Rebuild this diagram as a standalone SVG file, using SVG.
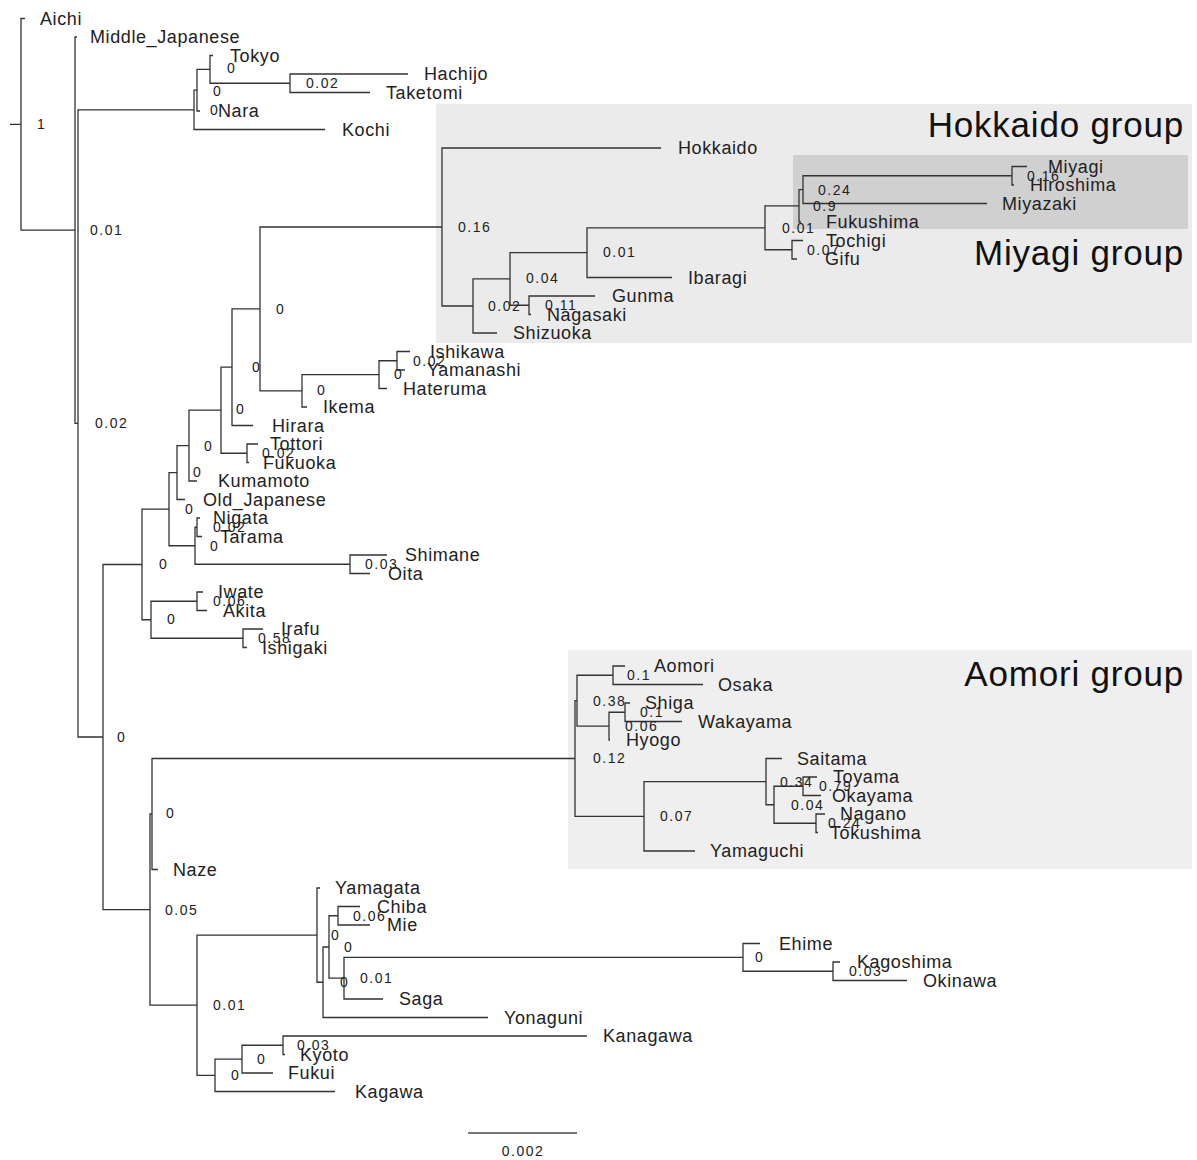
<svg xmlns="http://www.w3.org/2000/svg" width="1197" height="1160" viewBox="0 0 1197 1160">
<style>
.br{fill:none;stroke:#333;stroke-width:1.3}
.lf{font-family:"Liberation Sans",Arial,sans-serif;font-size:18px;letter-spacing:0.6px;fill:#222}
.sv{font-family:"Liberation Sans",Arial,sans-serif;font-size:14px;letter-spacing:1.5px;fill:#222}
.gt{font-family:"Liberation Sans",Arial,sans-serif;font-size:35px;letter-spacing:0.8px;fill:#111;text-anchor:end}
</style>
<rect width="1197" height="1160" fill="#fff"/>
<g id="boxes">
<rect x="436" y="104" width="756" height="239" fill="#ebebeb"/>
<rect x="793" y="155" width="395" height="74" fill="#d0d0d0"/>
<rect x="568" y="650" width="624" height="219" fill="#efefef"/>
</g>
<g id="group-titles">
<text class="gt" x="1184" y="137">Hokkaido group</text>
<text class="gt" x="1184" y="265">Miyagi group</text>
<text class="gt" x="1184" y="686">Aomori group</text>
</g>
<g id="connectors" class="br">
<path d="M25 18.5 H21 V230.2 H75 M10 124.35 H21"/>
<path d="M77 37 H75 V423.4 H78"/>
<path d="M194 109.85 H78 V737 H103"/>
<path d="M197 90.2 H194 V129.5 H325"/>
<path d="M210 69.4 H197 V111 H200"/>
<path d="M213 55.5 H210 V83.25 H290"/>
<path d="M408 74 H290 V92.5 H370"/>
<path d="M142 564.5 H103 V909.6 H150"/>
<path d="M169 509.2 H142 V619.75 H151"/>
<path d="M177 472.6 H169 V545.75 H195"/>
<path d="M189 445.6 H177 V499.5 H185"/>
<path d="M221 410.2 H189 V481 H197"/>
<path d="M232 367.2 H221 V453.25 H247"/>
<path d="M260 308.9 H232 V425.5 H253"/>
<path d="M442 227 H260 V390.8 H302"/>
<path d="M379 374.6 H302 V407 H307"/>
<path d="M397 360.75 H379 V388.5 H387"/>
<path d="M410 351.5 H397 V370 H405"/>
<path d="M258 444 H247 V462.5 H249"/>
<path d="M661 148 H442 V306 H473"/>
<path d="M510 278.9 H473 V333 H497"/>
<path d="M587 252.6 H510 V305.25 H529"/>
<path d="M595 296 H529 V314.5 H531"/>
<path d="M765 227.8 H587 V277.5 H672"/>
<path d="M799 205.8 H765 V249.75 H792"/>
<path d="M803 189.6 H799 V222 H801"/>
<path d="M1012 175.75 H803 V203.5 H987"/>
<path d="M1027 166.5 H1012 V185 H1014"/>
<path d="M803 240.5 H792 V259 H797"/>
<path d="M197 527.25 H195 V564.25 H350"/>
<path d="M200 518 H197 V536.5 H202"/>
<path d="M387 555 H350 V573.5 H370"/>
<path d="M197 601.25 H151 V638.25 H243"/>
<path d="M203 592 H197 V610.5 H207"/>
<path d="M263 629 H243 V647.5 H247"/>
<path d="M152 814 H150 V1005.2 H197"/>
<path d="M575 758.5 H152 V869.5 H158"/>
<path d="M577 700.7 H575 V816.3 H644"/>
<path d="M613 675.25 H577 V726.1 H609"/>
<path d="M625 666 H613 V684.5 H703"/>
<path d="M625 712.25 H609 V740 H610"/>
<path d="M630 703 H625 V721.5 H682"/>
<path d="M766 781.6 H644 V851 H695"/>
<path d="M782 758.5 H766 V804.75 H774"/>
<path d="M803 786.25 H774 V823.25 H816"/>
<path d="M817 777 H803 V795.5 H821"/>
<path d="M825 814 H816 V832.5 H818"/>
<path d="M317 935.1 H197 V1075.3 H215"/>
<path d="M320 888 H317 V982.25 H323"/>
<path d="M329 947 H323 V1017.5 H488"/>
<path d="M338 915.75 H329 V978.2 H344"/>
<path d="M360 906.5 H338 V925 H370"/>
<path d="M743 957.4 H344 V999 H383"/>
<path d="M760 943.5 H743 V971.25 H833"/>
<path d="M840 962 H833 V980.5 H907"/>
<path d="M242 1059.1 H215 V1091.5 H335"/>
<path d="M283 1045.25 H242 V1073 H273"/>
<path d="M587 1036 H283 V1054.5 H285"/>
</g>
<g id="support-values" class="sv">
<text x="37" y="129">1</text>
<text x="90" y="235">0.01</text>
<text x="95" y="428">0.02</text>
<text x="227" y="73">0</text>
<text x="306" y="88">0.02</text>
<text x="213" y="96">0</text>
<text x="210" y="115">0</text>
<text x="458" y="232">0.16</text>
<text x="818" y="195">0.24</text>
<text x="1027" y="181">0.16</text>
<text x="813" y="211">0.9</text>
<text x="782" y="233">0.01</text>
<text x="807" y="255">0.07</text>
<text x="603" y="257">0.01</text>
<text x="526" y="283">0.04</text>
<text x="488" y="311">0.02</text>
<text x="545" y="310">0.11</text>
<text x="276" y="314">0</text>
<text x="252" y="372">0</text>
<text x="317" y="395">0</text>
<text x="394" y="379">0</text>
<text x="413" y="366">0.02</text>
<text x="236" y="414">0</text>
<text x="262" y="458">0.02</text>
<text x="204" y="451">0</text>
<text x="193" y="477">0</text>
<text x="185" y="514">0</text>
<text x="210" y="551">0</text>
<text x="213" y="532">0.02</text>
<text x="365" y="569">0.03</text>
<text x="159" y="569">0</text>
<text x="167" y="624">0</text>
<text x="213" y="606">0.06</text>
<text x="258" y="643">0.58</text>
<text x="117" y="742">0</text>
<text x="593" y="763">0.12</text>
<text x="593" y="706">0.38</text>
<text x="627" y="680">0.1</text>
<text x="640" y="717">0.1</text>
<text x="625" y="731">0.06</text>
<text x="660" y="821">0.07</text>
<text x="780" y="787">0.34</text>
<text x="791" y="810">0.04</text>
<text x="819" y="791">0.79</text>
<text x="828" y="828">0.24</text>
<text x="166" y="818">0</text>
<text x="165" y="915">0.05</text>
<text x="213" y="1010">0.01</text>
<text x="331" y="940">0</text>
<text x="340" y="987">0</text>
<text x="344" y="952">0</text>
<text x="353" y="921">0.06</text>
<text x="360" y="983">0.01</text>
<text x="755" y="962">0</text>
<text x="849" y="976">0.03</text>
<text x="231" y="1080">0</text>
<text x="257" y="1064">0</text>
<text x="297" y="1050">0.03</text>
</g>
<g id="leaf-Aichi" class="lf"><text x="40" y="24.5">Aichi</text></g>
<g id="leaf-Middle_Japanese" class="lf"><text x="90" y="43">Middle_Japanese</text></g>
<g id="leaf-Tokyo" class="lf"><text x="230" y="61.5">Tokyo</text></g>
<g id="leaf-Hachijo" class="lf"><text x="424" y="80">Hachijo</text></g>
<g id="leaf-Taketomi" class="lf"><text x="386" y="98.5">Taketomi</text></g>
<g id="leaf-Nara" class="lf"><text x="218" y="117">Nara</text></g>
<g id="leaf-Kochi" class="lf"><text x="342" y="135.5">Kochi</text></g>
<g id="leaf-Hokkaido" class="lf"><text x="678" y="154">Hokkaido</text></g>
<g id="leaf-Miyagi" class="lf"><text x="1048" y="172.5">Miyagi</text></g>
<g id="leaf-Hiroshima" class="lf"><text x="1030" y="191">Hiroshima</text></g>
<g id="leaf-Miyazaki" class="lf"><text x="1002" y="209.5">Miyazaki</text></g>
<g id="leaf-Fukushima" class="lf"><text x="826" y="228">Fukushima</text></g>
<g id="leaf-Tochigi" class="lf"><text x="826" y="246.5">Tochigi</text></g>
<g id="leaf-Gifu" class="lf"><text x="825" y="265">Gifu</text></g>
<g id="leaf-Ibaragi" class="lf"><text x="688" y="283.5">Ibaragi</text></g>
<g id="leaf-Gunma" class="lf"><text x="612" y="302">Gunma</text></g>
<g id="leaf-Nagasaki" class="lf"><text x="547" y="320.5">Nagasaki</text></g>
<g id="leaf-Shizuoka" class="lf"><text x="513" y="339">Shizuoka</text></g>
<g id="leaf-Ishikawa" class="lf"><text x="430" y="357.5">Ishikawa</text></g>
<g id="leaf-Yamanashi" class="lf"><text x="427" y="376">Yamanashi</text></g>
<g id="leaf-Hateruma" class="lf"><text x="403" y="394.5">Hateruma</text></g>
<g id="leaf-Ikema" class="lf"><text x="323" y="413">Ikema</text></g>
<g id="leaf-Hirara" class="lf"><text x="272" y="431.5">Hirara</text></g>
<g id="leaf-Tottori" class="lf"><text x="270" y="450">Tottori</text></g>
<g id="leaf-Fukuoka" class="lf"><text x="263" y="468.5">Fukuoka</text></g>
<g id="leaf-Kumamoto" class="lf"><text x="218" y="487">Kumamoto</text></g>
<g id="leaf-Old_Japanese" class="lf"><text x="203" y="505.5">Old_Japanese</text></g>
<g id="leaf-Nigata" class="lf"><text x="213" y="524">Nigata</text></g>
<g id="leaf-Tarama" class="lf"><text x="220" y="542.5">Tarama</text></g>
<g id="leaf-Shimane" class="lf"><text x="405" y="561">Shimane</text></g>
<g id="leaf-Oita" class="lf"><text x="388" y="579.5">Oita</text></g>
<g id="leaf-Iwate" class="lf"><text x="218" y="598">Iwate</text></g>
<g id="leaf-Akita" class="lf"><text x="223" y="616.5">Akita</text></g>
<g id="leaf-Irafu" class="lf"><text x="281" y="635">Irafu</text></g>
<g id="leaf-Ishigaki" class="lf"><text x="262" y="653.5">Ishigaki</text></g>
<g id="leaf-Aomori" class="lf"><text x="654" y="672">Aomori</text></g>
<g id="leaf-Osaka" class="lf"><text x="718" y="690.5">Osaka</text></g>
<g id="leaf-Shiga" class="lf"><text x="645" y="709">Shiga</text></g>
<g id="leaf-Wakayama" class="lf"><text x="698" y="727.5">Wakayama</text></g>
<g id="leaf-Hyogo" class="lf"><text x="626" y="746">Hyogo</text></g>
<g id="leaf-Saitama" class="lf"><text x="797" y="764.5">Saitama</text></g>
<g id="leaf-Toyama" class="lf"><text x="833" y="783">Toyama</text></g>
<g id="leaf-Okayama" class="lf"><text x="832" y="801.5">Okayama</text></g>
<g id="leaf-Nagano" class="lf"><text x="840" y="820">Nagano</text></g>
<g id="leaf-Tokushima" class="lf"><text x="830" y="838.5">Tokushima</text></g>
<g id="leaf-Yamaguchi" class="lf"><text x="710" y="857">Yamaguchi</text></g>
<g id="leaf-Naze" class="lf"><text x="173" y="875.5">Naze</text></g>
<g id="leaf-Yamagata" class="lf"><text x="335" y="894">Yamagata</text></g>
<g id="leaf-Chiba" class="lf"><text x="377" y="912.5">Chiba</text></g>
<g id="leaf-Mie" class="lf"><text x="387" y="931">Mie</text></g>
<g id="leaf-Ehime" class="lf"><text x="779" y="949.5">Ehime</text></g>
<g id="leaf-Kagoshima" class="lf"><text x="857" y="968">Kagoshima</text></g>
<g id="leaf-Okinawa" class="lf"><text x="923" y="986.5">Okinawa</text></g>
<g id="leaf-Saga" class="lf"><text x="399" y="1005">Saga</text></g>
<g id="leaf-Yonaguni" class="lf"><text x="504" y="1023.5">Yonaguni</text></g>
<g id="leaf-Kanagawa" class="lf"><text x="603" y="1042">Kanagawa</text></g>
<g id="leaf-Kyoto" class="lf"><text x="300" y="1060.5">Kyoto</text></g>
<g id="leaf-Fukui" class="lf"><text x="288" y="1079">Fukui</text></g>
<g id="leaf-Kagawa" class="lf"><text x="355" y="1097.5">Kagawa</text></g>
<g id="scale-bar">
<line x1="468" y1="1133" x2="577" y2="1133" stroke="#777" stroke-width="2"/>
<text class="sv" x="523" y="1156" text-anchor="middle">0.002</text>
</g>
</svg>
